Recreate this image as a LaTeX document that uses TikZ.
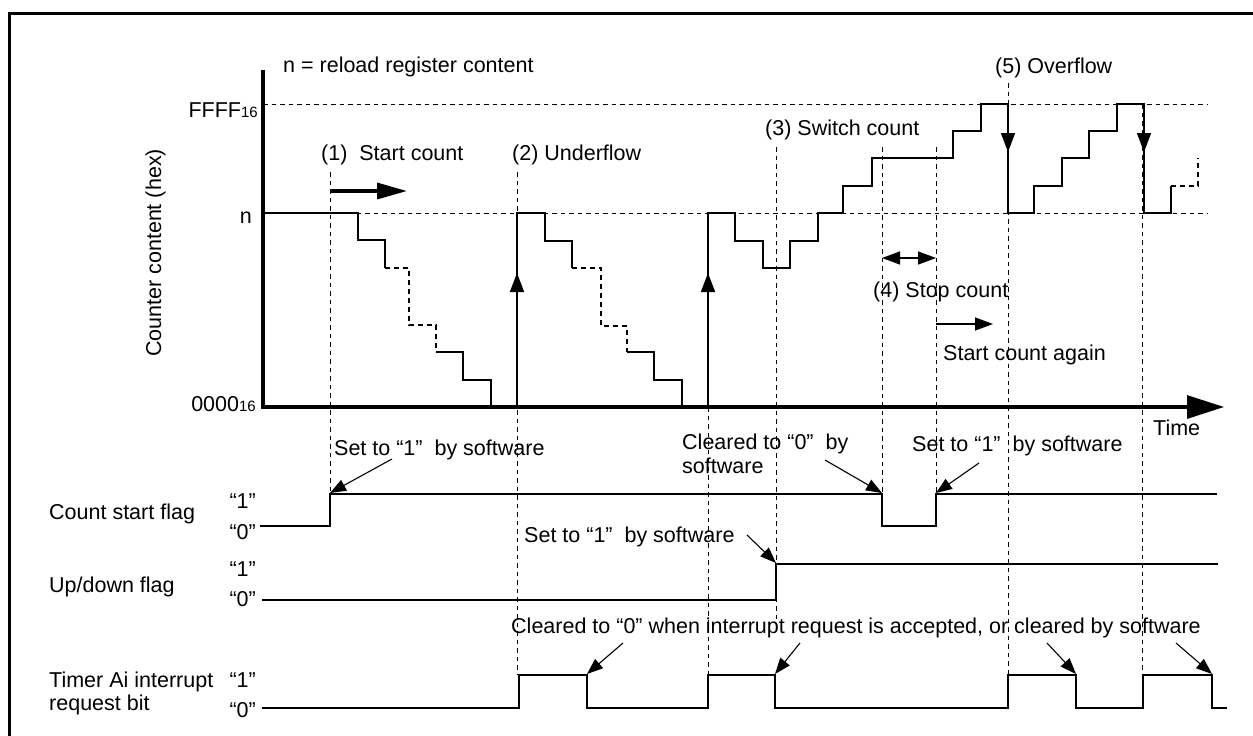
\documentclass[tikz,border=0pt]{standalone}
\usepackage{fontspec}
\setmainfont{Liberation Sans}
\usetikzlibrary{arrows.meta}
\newcommand{\hexsub}[1]{{\fontsize{15}{15}\selectfont #1}}
\begin{document}
\begin{tikzpicture}[x=1pt,y=-1pt,
  txt/.style={inner sep=0pt, font=\fontsize{21.5}{25}\selectfont, text=black},
  sig/.style={line width=1.7pt, line join=miter},
  dstep/.style={line width=1.7pt, dash pattern=on 5pt off 4pt},
  dsh/.style={line width=1pt, dash pattern=on 4.5pt off 4pt},
  axisline/.style={line width=3.2pt},
  ann/.style={line width=1.1pt, -{Triangle[length=16pt,width=12pt]}},
  vtip/.style={line width=1.7pt, -{Triangle[length=19pt,width=14pt]}},
  htip/.style={line width=1.5pt, -{Triangle[length=18pt,width=13pt]}}]
\useasboundingbox (0,0) rectangle (1253,736);
\clip (0,0) rectangle (1253,736);
% frame
\draw[line width=3pt] (9,760) -- (9,13) -- (1270,13);

% ---- dashed reference lines ----
\draw[dsh] (263,104) -- (1208,104);
\draw[dsh] (263,213) -- (1208,213);
\draw[dsh] (330,172) -- (330,494);
\draw[dsh] (517,172) -- (517,675);
\draw[dsh] (708,407) -- (708,675);
\draw[dsh] (776,147) -- (776,620);
\draw[dsh] (882,147) -- (882,494);
\draw[dsh] (936,147) -- (936,494);
\draw[dsh] (1008,83) -- (1008,675);
\draw[dsh] (1142,104) -- (1142,675);

% ---- axes ----
\draw[axisline] (263,70) -- (263,408.6);
\draw[axisline,-{Triangle[length=37pt,width=23pt]}] (261.4,407) -- (1224,407);
\node[txt,anchor=base west] (time) at (1153,435) {Time};

% ---- axis labels ----
\node[txt,anchor=base west] (nreload) at (283,72) {n = reload register content};
\node[txt,anchor=base east] (ffff) at (258,117) {FFFF\hexsub{16}};
\node[txt,anchor=base east] (nlab) at (252,223) {n};
\node[txt,anchor=base east] (zero) at (256,411) {0000\hexsub{16}};
\node[txt,rotate=90,anchor=base] (ylab) at (161,253) {Counter content (hex)};

% ---- event labels ----
\node[txt,anchor=base west] (ev1) at (321,160) {(1)\ \ Start count};
\node[txt,anchor=base west] (ev2) at (512,160) {(2) Underflow};
\node[txt,anchor=base west] (ev3) at (765,135) {(3) Switch count};
\node[txt,anchor=base west] (ev4) at (873,297) {(4) Stop count};
\node[txt,anchor=base west] (ev4b) at (943,360) {Start count again};
\node[txt,anchor=base west] (ev5) at (995,73) {(5) Overflow};

\draw[line width=3.2pt,-{Triangle[length=30pt,width=16pt]}] (330,191) -- (407,191);
\draw[htip,{Triangle[length=18pt,width=13pt]}-{Triangle[length=18pt,width=13pt]}] (882,258) -- (936,258);
\draw[htip] (936,324) -- (993,324);

% ---- counter content ----
\draw[sig] (263,213) -- (358,213) -- (358,240) -- (385,240) -- (385,268);
\draw[dstep] (385,268) -- (409,268) -- (409,325) -- (436,325) -- (436,352);
\draw[sig] (436,352) -- (463,352) -- (463,380) -- (491,380) -- (491,407);
\draw[sig] (517,407) -- (517,213) -- (545,213) -- (545,241) -- (572,241) -- (572,268);
\draw[dstep] (572,268) -- (601,268) -- (601,326) -- (627,326) -- (627,352);
\draw[sig] (627,352) -- (654,352) -- (654,380) -- (682,380) -- (682,407);
\draw[sig] (708,407) -- (708,213) -- (735,213) -- (735,241) -- (763,241) -- (763,268)
  -- (790,268) -- (790,241) -- (818,241) -- (818,213) -- (843,213) -- (843,186)
  -- (872,186) -- (872,158) -- (953,158) -- (953,131) -- (981,131) -- (981,104)
  -- (1008,104) -- (1008,213) -- (1034,213) -- (1034,186) -- (1062,186) -- (1062,158)
  -- (1089,158) -- (1089,131) -- (1117,131) -- (1117,104) -- (1144,104) -- (1144,213)
  -- (1171,213) -- (1171,186);
\draw[dstep] (1171,186) -- (1198,186) -- (1198,158);
\draw[vtip] (517,407) -- (517,273);
\draw[vtip] (708,407) -- (708,273);
\draw[vtip] (1008,104) -- (1008,152);
\draw[vtip] (1144,104) -- (1144,152);

% ---- flag labels ----
\node[txt,anchor=base west] (csf) at (49,519) {Count start flag};
\node[txt,anchor=base west] (udf) at (49,592) {Up/down flag};
\node[txt,anchor=base west] (tai) at (49,687) {Timer Ai interrupt};
\node[txt,anchor=base west] (rqb) at (49,710) {request bit};
\node[txt,anchor=base east] (c1) at (256,508) {“1”};
\node[txt,anchor=base east] (c0) at (256,539) {“0”};
\node[txt,anchor=base east] (u1) at (256,576) {“1”};
\node[txt,anchor=base east] (u0) at (256,606) {“0”};
\node[txt,anchor=base east] (t1) at (256,687) {“1”};
\node[txt,anchor=base east] (t0) at (256,717) {“0”};

% ---- flag signals ----
\draw[sig] (260,526) -- (330,526) -- (330,494) -- (882,494) -- (882,526) -- (936,526) -- (936,494) -- (1217,494);
\draw[sig] (262,600) -- (776,600) -- (776,564) -- (1218,564);
\draw[sig] (262,708) -- (519,708) -- (519,675) -- (587,675) -- (587,708) -- (708,708) -- (708,675)
  -- (775,675) -- (775,708) -- (1008,708) -- (1008,675) -- (1076,675) -- (1076,708)
  -- (1143,708) -- (1143,675) -- (1212,675) -- (1212,708) -- (1227,708);

% ---- annotations ----
\node[txt,anchor=base west] (s1) at (334,455) {Set to “1”\ \ by software};
\node[txt,anchor=base west] (cl1) at (682,449) {Cleared to “0”\ \ by};
\node[txt,anchor=base west] (cl1b) at (682,473) {software};
\node[txt,anchor=base west] (s2) at (912,451) {Set to “1”\ \ by software};
\node[txt,anchor=base west] (s3) at (524,542) {Set to “1”\ \ by software};
\node[txt,anchor=base west] (cl2) at (511,633) {Cleared to “0” when interrupt request is accepted, or cleared by software};

\coordinate (a1) at (330,493);
\coordinate (a2) at (882,493);
\coordinate (a3) at (936,493);
\coordinate (a4) at (776,563);
\coordinate (a5) at (587,674);
\coordinate (a6) at (775,674);
\coordinate (a7) at (1076,674);
\coordinate (a8) at (1212,674);
\draw[ann] (392,459) -- (a1);
\draw[ann] (825,460) -- (a2);
\draw[ann] (979,463) -- (a3);
\draw[ann] (747,535) -- (a4);
\draw[ann] (623,643) -- (a5);
\draw[ann] (800,643) -- (a6);
\draw[ann] (1047,643) -- (a7);
\draw[ann] (1176,643) -- (a8);
\end{tikzpicture}
\end{document}
